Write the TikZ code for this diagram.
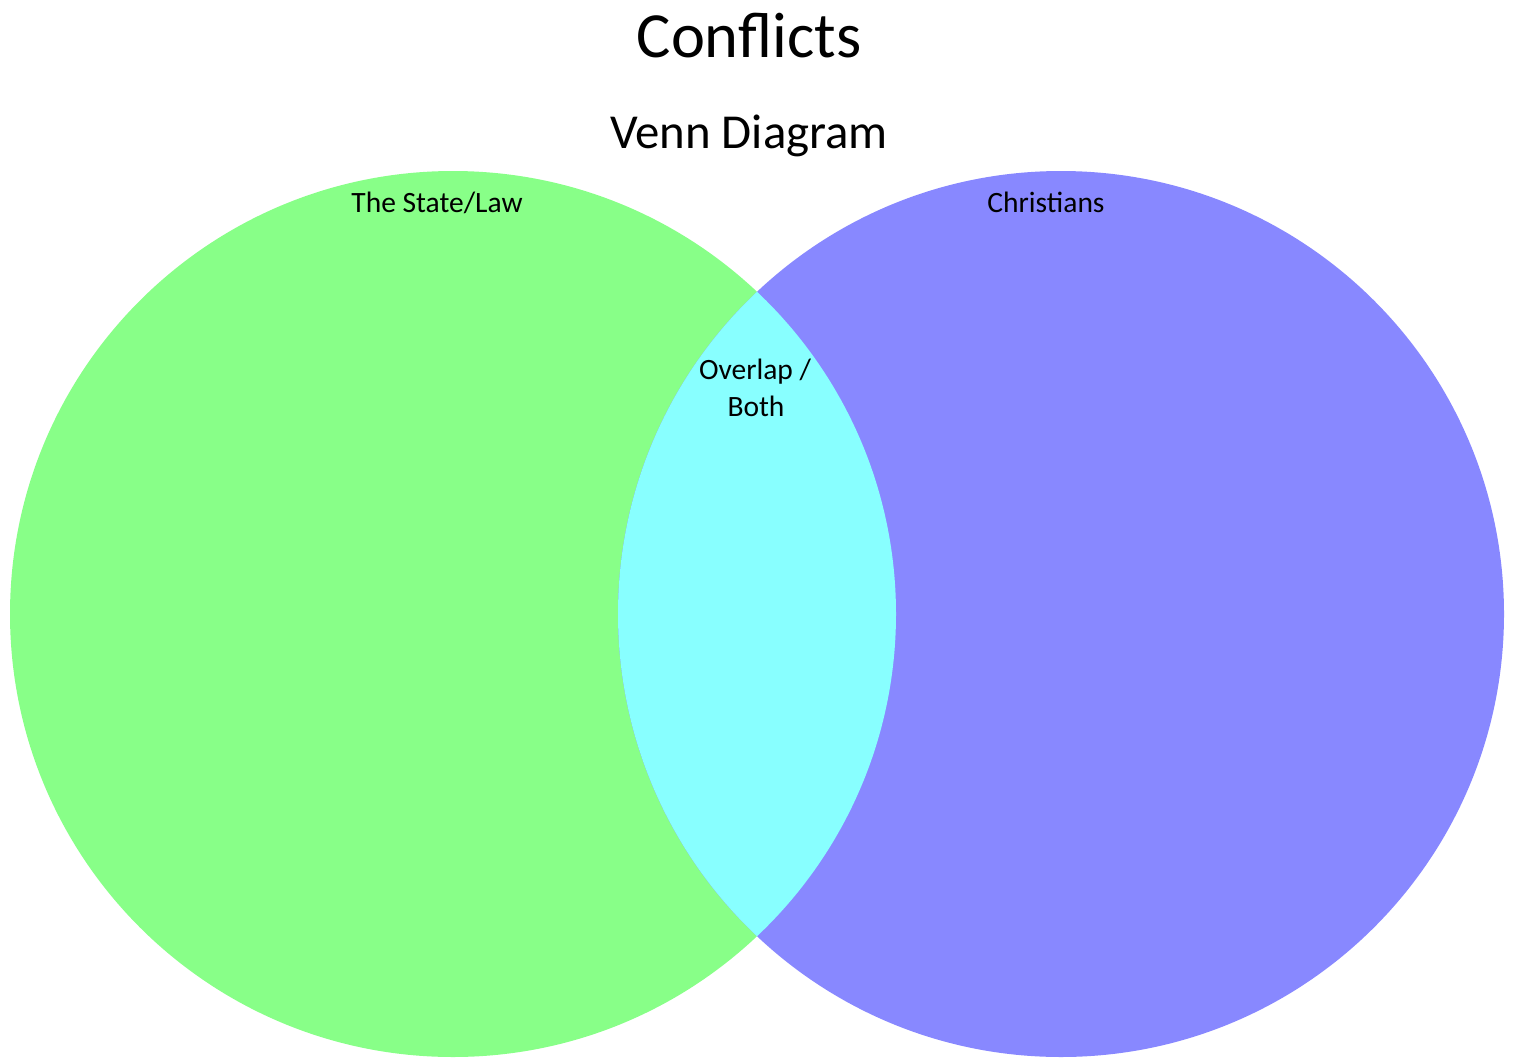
\documentclass[tikz,border=0pt]{standalone}
\usepackage{fontspec}
\setmainfont{Carlito}
\definecolor{vgreen}{HTML}{88FF88}
\definecolor{vblue}{HTML}{8888FF}
\definecolor{vcyan}{HTML}{88FFFF}
\begin{document}
\begin{tikzpicture}[x=1pt,y=-1pt,
  lbl/.style={anchor=base,inner sep=0pt,font=\fontsize{29.5}{34}\selectfont},
  ttl/.style={anchor=base,inner sep=0pt}]
\useasboundingbox (0,0) rectangle (1514,1057);
\fill[vgreen] (453,614) circle[radius=443];
\fill[vblue] (1061,614) circle[radius=443];
\begin{scope}
\clip (453,614) circle[radius=443];
\fill[vcyan] (1061,614) circle[radius=443];
\end{scope}
\node[ttl,font=\fontsize{64.4}{70}\selectfont] (title) at (749,58) {Conflicts};
\node[ttl,font=\fontsize{48.8}{54}\selectfont] (sub) at (749,148) {Venn Diagram};
\node[lbl] (a) at (437,212) {The State/Law};
\node[lbl] (b) at (1046,212) {Christians};
\node[lbl] (c1) at (755,379) {Overlap /};
\node[lbl] (c2) at (756,416) {Both};
\end{tikzpicture}
\end{document}
